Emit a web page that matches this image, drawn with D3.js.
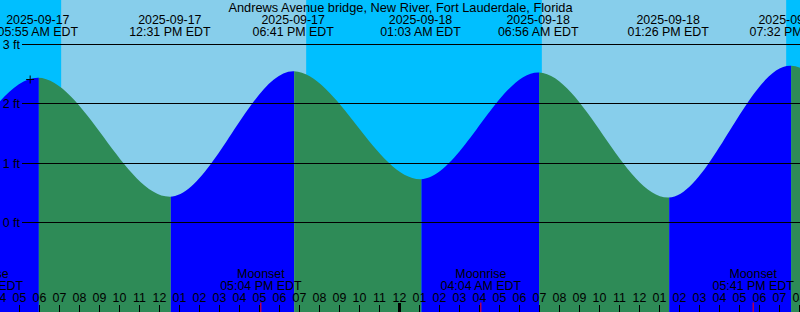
<!DOCTYPE html>
<html>
<head>
<meta charset="utf-8">
<script src="https://cdn.jsdelivr.net/npm/d3@7"></script>
<style>
  html, body { margin: 0; padding: 0; background: #fff; }
  svg { display: block; }
  text { font-family: "Liberation Sans", Arial, sans-serif; font-size: 12.4px; fill: #000; }
  text.title { font-size: 12.8px; }
</style>
</head>
<body>
<svg id="chart" width="800" height="312"></svg>
<script>
// ---- data ----
const title = "Andrews Avenue bridge, New River, Fort Lauderdale, Florida";
const viewStart = "2025-09-17 04:00";
const viewEnd = "2025-09-18 20:00";

// tide extremes (first and last two lie outside the visible window)
const extremeTimes = ["2025-09-16 17:25", "2025-09-16 23:36", "2025-09-17 05:55", "2025-09-17 12:31",
  "2025-09-17 18:41", "2025-09-18 01:03", "2025-09-18 06:56", "2025-09-18 13:26",
  "2025-09-18 19:32", "2025-09-19 02:00", "2025-09-19 08:10"];
const extremeHeights = [2.5, 0.6, 2.44, 0.435, 2.55, 0.73, 2.53, 0.42, 2.64, 0.75, 2.5];

const sunriseTimes = ["2025-09-17 07:05", "2025-09-18 07:07"];
const sunsetTimes = ["2025-09-17 19:20", "2025-09-18 19:20"];

const moonNames = ["Moonrise", "Moonset", "Moonrise", "Moonset"];
const moonTimes = ["2025-09-17 03:11", "2025-09-17 17:04", "2025-09-18 04:04", "2025-09-18 17:41"];

const depthTicks = [0, 1, 2, 3];

const markTime = "2025-09-17 05:32";
const markHeight = 2.41;

// ---- colours ----
const NIGHT = "#00BFFF", DAY = "#87CEEB", FLOOD = "#0000FF", EBB = "#2E8B57";

// ---- setup ----
const W = 800, H = 312;
const parse = d3.utcParse("%Y-%m-%d %H:%M");
const fmtDate = d3.utcFormat("%Y-%m-%d");
const fmtTime = d3.utcFormat("%I:%M %p EDT");
const fmtHour = d3.utcFormat("%I");

const x = d3.scaleUtc().domain([parse(viewStart), parse(viewEnd)]).range([-0.5, W - 0.5]);
const y = d3.scaleLinear().domain([0, 3]).range([222.5, 44.5]);

const svg = d3.select("#chart");
const defs = svg.append("defs");

// sky
svg.append("rect").attr("x", 0).attr("y", 0).attr("width", W).attr("height", H).attr("fill", NIGHT);
sunriseTimes.forEach((s, i) => {
  const x0 = x(parse(s)), x1 = x(parse(sunsetTimes[i]));
  svg.append("rect").attr("x", x0).attr("y", 0).attr("width", x1 - x0).attr("height", H).attr("fill", DAY);
});

// tide area
const pts = extremeTimes.map((t, i) => ({ t: parse(t), h: extremeHeights[i] }));
const area = d3.area()
  .x(d => x(d.t))
  .y0(H)
  .y1(d => y(d.h))
  .curve(d3.curveMonotoneX);
const areaD = area(pts);
for (let i = 0; i < pts.length - 1; i++) {
  const xa = x(pts[i].t) + 1, xb = x(pts[i + 1].t) + 1;
  const id = "seg" + i;
  defs.append("clipPath").attr("id", id)
    .append("rect").attr("x", xa).attr("y", 0).attr("width", xb - xa).attr("height", H);
  svg.append("path").attr("d", areaD)
    .attr("clip-path", `url(#${id})`)
    .attr("fill", pts[i + 1].h > pts[i].h ? FLOOD : EBB);
}

// depth lines + labels
depthTicks.forEach(d => {
  svg.append("line").attr("x1", 22).attr("x2", W).attr("y1", y(d)).attr("y2", y(d))
    .attr("stroke", "#000").attr("stroke-width", 1).attr("shape-rendering", "crispEdges");
  svg.append("text").attr("x", 20).attr("y", y(d) + 4.5).attr("text-anchor", "end").text(d + " ft");
});

// title
svg.append("text").attr("class", "title").attr("x", W / 2 + 0.5).attr("y", 12).attr("text-anchor", "middle").text(title);

// extreme labels (only for extremes inside the visible window)
const [d0, d1] = x.domain();
pts.filter(p => p.t >= d0 && p.t <= d1).forEach(p => {
  const xx = x(p.t);
  svg.append("text").attr("x", xx).attr("y", 24).attr("text-anchor", "middle").text(fmtDate(p.t));
  svg.append("text").attr("x", xx).attr("y", 36).attr("text-anchor", "middle").text(fmtTime(p.t));
});

// hour ticks
const hours = d3.utcHour.range(parse(viewStart), d3.utcHour.offset(parse(viewEnd), 1));
hours.forEach(h => {
  const xx = x(h);
  if (h.getUTCHours() === 0) {
    svg.append("rect").attr("x", xx - 1.5).attr("y", 303).attr("width", 3).attr("height", H - 303).attr("fill", "#000");
  } else {
    svg.append("line").attr("x1", xx).attr("x2", xx).attr("y1", 305).attr("y2", H)
      .attr("stroke", "#000").attr("stroke-width", 1);
  }
  svg.append("text").attr("x", xx).attr("y", 302).attr("text-anchor", "middle").text(fmtHour(h));
});

// moon events
moonTimes.forEach((t, i) => {
  const d = parse(t), xx = x(d);
  svg.append("line").attr("x1", xx).attr("x2", xx).attr("y1", 302.5).attr("y2", H)
    .attr("stroke", "#FF0000").attr("stroke-width", 1);
  svg.append("text").attr("x", xx).attr("y", 278).attr("text-anchor", "middle").text(moonNames[i]);
  svg.append("text").attr("x", xx).attr("y", 290).attr("text-anchor", "middle").text(fmtTime(d));
});

// "+" marker
const mx = x(parse(markTime)), my = y(markHeight);
svg.append("line").attr("x1", mx - 4).attr("x2", mx + 4).attr("y1", my).attr("y2", my).attr("stroke", "#000");
svg.append("line").attr("x1", mx).attr("x2", mx).attr("y1", my - 4).attr("y2", my + 4).attr("stroke", "#000");
</script>
</body>
</html>
